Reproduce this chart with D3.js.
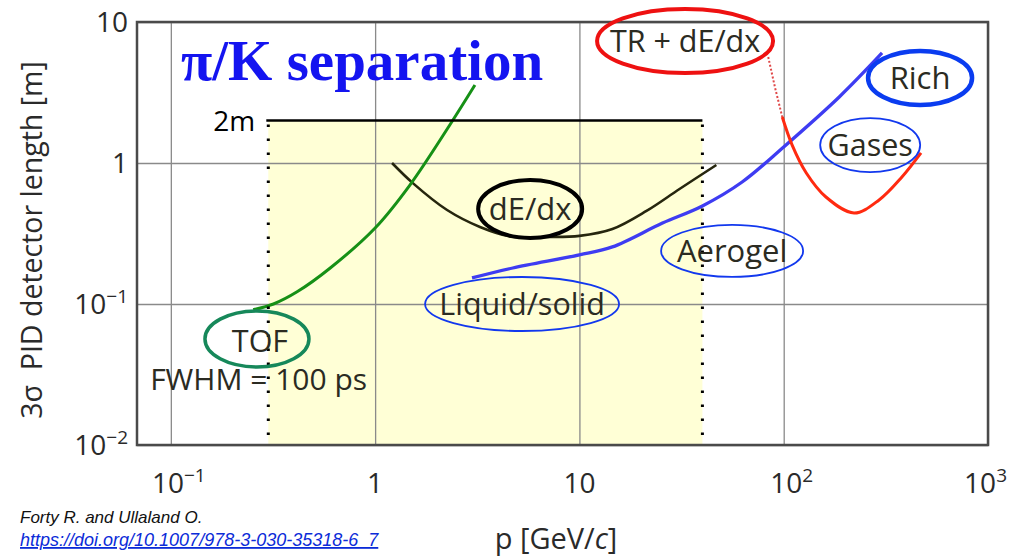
<!DOCTYPE html>
<html>
<head>
<meta charset="utf-8">
<script src="https://cdn.jsdelivr.net/npm/d3@7"></script>
<style>
  body { margin: 0; background: #fff; }
  svg text { font-family: "Open Sans", sans-serif; }
</style>
</head>
<body>
<div id="chart"></div>
<script>
var width = 1010, height = 558;
var plot = {left: 137, right: 988, top: 22, bottom: 445};

// tick values (log axes)
var xTicks = [0.1, 1, 10, 100, 1000];
var yTicks = [0.01, 0.1, 1, 10];

// shaded pi/K region: momentum range and length limit
var bandP = [0.3, 40];
var bandL = 2;

// TOF curve (FWHM = 100 ps)
var tofP = [0.253, 0.318, 0.415, 0.603, 1.0, 1.48, 2.32, 3.08];
var tofL = [0.091, 0.1, 0.122, 0.18, 0.346, 0.698, 1.86, 3.57];

// dE/dx curve
var dedxP = [1.21, 1.53, 2.25, 3.26, 4.72, 6.92, 10.0, 14.5, 21.3, 30.9, 46.8];
var dedxL = [1.0, 0.72, 0.464, 0.352, 0.299, 0.299, 0.304, 0.34, 0.457, 0.654, 0.968];

// Cherenkov curve (liquid/solid -> aerogel -> gases)
var richP = [2.98, 4.72, 10, 14.5, 25.5, 40, 62.6, 100, 187, 303];
var richL = [0.153, 0.18, 0.223, 0.254, 0.375, 0.496, 0.733, 1.30, 2.94, 6.03];

// TR + dE/dx curve (dotted part, then solid part)
var trDotP = [84, 90.8, 98.4];
var trDotL = [5.65, 3.4, 2.12];
var trP = [98.4, 110, 129, 161, 221, 293, 379, 470];
var trL = [2.12, 1.34, 0.85, 0.574, 0.442, 0.547, 0.796, 1.18];

// circled labels: text, centre p, centre L
var labelText = ["TR + dE/dx", "Rich", "Gases", "Aerogel", "Liquid/solid", "dE/dx", "TOF"];
var labelP = [32.9, 465, 265, 55.9, 5.24, 5.74, 0.264];
var labelL = [7.33, 4.01, 1.34, 0.238, 0.1, 0.472, 0.0565];

var svg = d3.select("#chart").append("svg")
  .attr("width", width)
  .attr("height", height);

var x = d3.scaleLog().domain([0.0683, 1000]).range([plot.left, plot.right]);
var y = d3.scaleLog().domain([0.01, 10]).range([plot.bottom, plot.top]);

// yellow band
svg.append("rect")
  .attr("x", x(bandP[0]))
  .attr("y", y(bandL))
  .attr("width", x(bandP[1]) - x(bandP[0]))
  .attr("height", y(0.01) - y(bandL))
  .attr("fill", "#ffffd6");

// grid lines
svg.append("g")
  .attr("transform", "translate(0," + plot.bottom + ")")
  .call(d3.axisBottom(x).tickValues(xTicks).tickSize(-(plot.bottom - plot.top)).tickFormat(""))
  .call(g => g.select(".domain").remove())
  .selectAll("line").attr("stroke", "#8a8a8a").attr("stroke-width", 1.3);

svg.append("g")
  .attr("transform", "translate(" + plot.left + ",0)")
  .call(d3.axisLeft(y).tickValues(yTicks).tickSize(-(plot.right - plot.left)).tickFormat(""))
  .call(g => g.select(".domain").remove())
  .selectAll("line").attr("stroke", "#8a8a8a").attr("stroke-width", 1.3);

// frame
svg.append("rect")
  .attr("x", plot.left).attr("y", plot.top)
  .attr("width", plot.right - plot.left).attr("height", plot.bottom - plot.top)
  .attr("fill", "none").attr("stroke", "#4a4a4a").attr("stroke-width", 2.5);

// tick labels with superscripts
function powLabel(sel, v) {
  var e = Math.round(Math.log10(v));
  if (e === 0) { sel.text("1"); return; }
  if (e === 1) { sel.text("10"); return; }
  sel.append("tspan").text("10");
  sel.append("tspan").attr("dy", -11).attr("font-size", 19)
    .text(e < 0 ? "\u2212" + (-e) : "" + e);
}

svg.append("g").selectAll("text")
  .data(yTicks).enter().append("text")
  .attr("x", 128)
  .attr("y", d => y(d) + 10)
  .attr("text-anchor", "end")
  .attr("font-size", 28)
  .attr("fill", "#2a2a2a")
  .each(function(d) { powLabel(d3.select(this), d); });

svg.append("g").selectAll("text")
  .data(xTicks).enter().append("text")
  .attr("x", d => d >= 1000 ? 1007 : x(d) + (d < 1 || d > 10 ? 8 : 0))
  .attr("y", 493)
  .attr("text-anchor", d => d >= 1000 ? "end" : "middle")
  .attr("font-size", 28)
  .attr("fill", "#2a2a2a")
  .each(function(d) { powLabel(d3.select(this), d); });

// axis titles
svg.append("text")
  .attr("transform", "translate(42,240) rotate(-90)")
  .attr("text-anchor", "middle")
  .attr("font-size", 28.5)
  .attr("fill", "#2a2a2a")
  .attr("xml:space", "preserve")
  .text("3\u03c3  PID detector length [m]");

var xt = svg.append("text")
  .attr("x", 556).attr("y", 549)
  .attr("text-anchor", "middle")
  .attr("font-size", 29)
  .attr("fill", "#2a2a2a");
xt.append("tspan").text("p [GeV/");
xt.append("tspan").attr("font-style", "italic").text("c");
xt.append("tspan").text("]");

// curves
var line = d3.line().x(d => x(d[0])).y(d => y(d[1])).curve(d3.curveCatmullRom.alpha(0.5));
function pairs(a, b) { return a.map((v, i) => [v, b[i]]); }

svg.append("path").datum(pairs(dedxP, dedxL)).attr("d", line)
  .attr("fill", "none").attr("stroke", "#26260e").attr("stroke-width", 2.6);

svg.append("path").datum(pairs(tofP, tofL)).attr("d", line)
  .attr("fill", "none").attr("stroke", "#169016").attr("stroke-width", 3);

svg.append("path").datum(pairs(richP, richL)).attr("d", line)
  .attr("fill", "none").attr("stroke", "#3e3cf2").attr("stroke-width", 3.3);

svg.append("path").datum(pairs(trDotP, trDotL)).attr("d", d3.line().x(d => x(d[0])).y(d => y(d[1])))
  .attr("fill", "none").attr("stroke", "#e04848").attr("stroke-width", 2)
  .attr("stroke-dasharray", "2,2");

svg.append("path").datum(pairs(trP, trL)).attr("d", line)
  .attr("fill", "none").attr("stroke", "#ff2a10").attr("stroke-width", 3);

// band top line and dotted edges
svg.append("line")
  .attr("x1", x(bandP[0]) - 2).attr("x2", x(bandP[1]))
  .attr("y1", y(bandL)).attr("y2", y(bandL))
  .attr("stroke", "#000").attr("stroke-width", 2.5);

svg.selectAll(".edge").data(bandP).enter().append("line")
  .attr("x1", d => x(d)).attr("x2", d => x(d))
  .attr("y1", y(bandL) + 4).attr("y2", y(0.01))
  .attr("stroke", "#000").attr("stroke-width", 3)
  .attr("stroke-dasharray", "2.5,11.5");

svg.append("text")
  .attr("x", x(bandP[0]) - 13).attr("y", y(bandL) + 10)
  .attr("text-anchor", "end").attr("font-size", 28).attr("fill", "#000")
  .text("2m");

// labels and ellipses
var ellRx = [88, 52, 50, 71, 97, 52, 52];
var ellRy = [32, 27, 27, 26, 27, 29, 28];
var ellColor = ["#ee1111", "#0a3cf0", "#1238ee", "#1238ee", "#1238ee", "#000", "#16885a"];
var ellWidth = [4, 4.5, 1.8, 1.8, 1.8, 4, 3.5];
var labSize = [30.5, 31, 30.5, 31, 30.5, 31, 30.5];

var lab = svg.append("g").selectAll("g")
  .data(labelText).enter().append("g")
  .attr("transform", (d, i) => "translate(" + x(labelP[i]) + "," + y(labelL[i]) + ")");

lab.append("text")
  .attr("text-anchor", "middle")
  .attr("y", (d, i) => i === 6 ? 13 : 11)
  .attr("x", (d, i) => i === 6 ? 3 : 0)
  .attr("font-size", (d, i) => labSize[i])
  .attr("fill", "#2b2b22")
  .text(d => d);

lab.append("ellipse")
  .attr("rx", (d, i) => ellRx[i]).attr("ry", (d, i) => ellRy[i])
  .attr("fill", "none")
  .attr("stroke", (d, i) => ellColor[i])
  .attr("stroke-width", (d, i) => ellWidth[i]);

svg.append("text")
  .attr("x", x(0.0792)).attr("y", y(0.0245))
  .attr("font-size", 30).attr("fill", "#2b2b22")
  .text("FWHM = 100 ps");

// title
svg.append("text")
  .attr("x", 181).attr("y", 80)
  .style("font-family", "'Liberation Serif', 'Times New Roman', serif")
  .attr("font-weight", "bold")
  .attr("font-size", 57)
  .attr("fill", "#1414f0")
  .text("\u03c0/K separation");

// source
svg.append("text")
  .attr("x", 20).attr("y", 523)
  .style("font-family", "'Liberation Sans', Arial, sans-serif")
  .attr("font-style", "italic").attr("font-size", 17).attr("fill", "#111")
  .text("Forty R. and Ullaland O.");

svg.append("text")
  .attr("x", 20).attr("y", 546)
  .style("font-family", "'Liberation Sans', Arial, sans-serif")
  .attr("font-style", "italic").attr("font-size", 18).attr("fill", "#0b2bd8")
  .attr("text-decoration", "underline")
  .text("https://doi.org/10.1007/978-3-030-35318-6_7");
</script>
</body>
</html>
